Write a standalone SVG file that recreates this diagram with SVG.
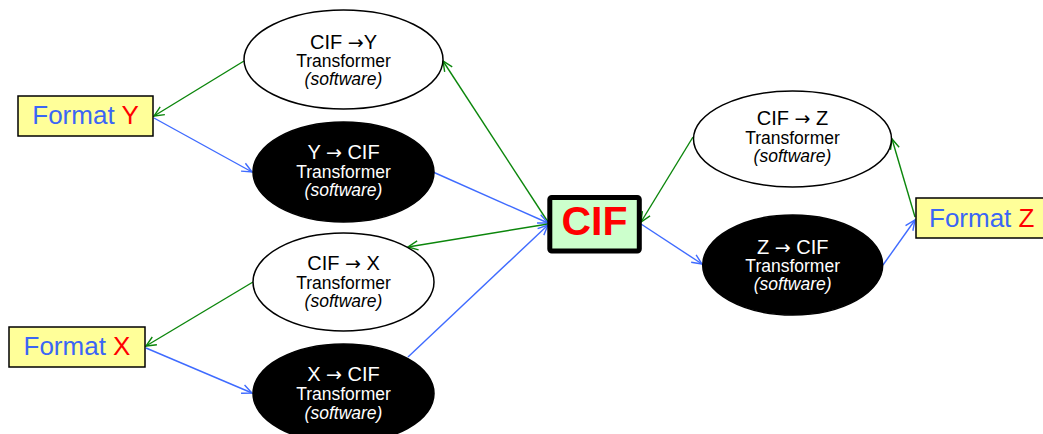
<svg xmlns="http://www.w3.org/2000/svg" width="1043" height="434" viewBox="0 0 1043 434">
  <style>
    .fmt { fill: #ffff99; stroke: #000; stroke-width: 1.5; }
    .fmtText { font-family: "Liberation Sans", Arial, sans-serif; font-size: 26px; fill: #3b66f5; }
    .red { fill: #ff0000; }
    .xfOut { fill: #fff; stroke: #000; stroke-width: 1.5; }
    .xfIn { fill: #000; stroke: #000; stroke-width: 1.5; }
    .t1 { font-family: "Liberation Sans", Arial, sans-serif; font-size: 20px; text-anchor: middle; }
    .arr { font-family: "DejaVu Sans", sans-serif; font-size: 19px; }
    .t2 { font-family: "Liberation Sans", Arial, sans-serif; font-size: 17.5px; text-anchor: middle; }
    .t3 { font-family: "Liberation Sans", Arial, sans-serif; font-size: 17.5px; font-style: italic; text-anchor: middle; }
    .dark { fill: #000; }
    .light { fill: #fff; }
    .g { stroke: #0b860b; stroke-width: 1.4; fill: none; marker-end: url(#ag); }
    .b { stroke: #3f6bff; stroke-width: 1.4; fill: none; marker-end: url(#ab); }
  </style>
  <defs>
    <marker id="ag" viewBox="-11 -6 13 12" markerWidth="13" markerHeight="12" refX="0" refY="0" orient="auto" markerUnits="userSpaceOnUse">
      <path d="M-10,-4.5 L0,0 L-10,4.5" fill="none" stroke="#0b860b" stroke-width="1.4"/>
    </marker>
    <marker id="ab" viewBox="-11 -6 13 12" markerWidth="13" markerHeight="12" refX="0" refY="0" orient="auto" markerUnits="userSpaceOnUse">
      <path d="M-10,-4.5 L0,0 L-10,4.5" fill="none" stroke="#3f6bff" stroke-width="1.4"/>
    </marker>
  </defs>

  <!-- connectors -->
  <g id="connectors">
    <line class="g" x1="244" y1="61" x2="154" y2="116"/>
    <line class="b" x1="154" y1="118" x2="252" y2="172"/>
    <line class="g" x1="548" y1="222" x2="443" y2="61"/>
    <line class="b" x1="433" y1="172" x2="548" y2="223"/>
    <line class="g" x1="548" y1="224" x2="408" y2="247"/>
    <line class="b" x1="408" y1="357" x2="548" y2="225"/>
    <line class="g" x1="253" y1="282" x2="146" y2="346"/>
    <line class="b" x1="146" y1="348" x2="252" y2="393"/>
    <line class="g" x1="693" y1="137" x2="641" y2="222"/>
    <line class="b" x1="641" y1="224" x2="702" y2="264"/>
    <line class="g" x1="915" y1="217" x2="892" y2="139"/>
    <line class="b" x1="883" y1="265" x2="915" y2="220"/>
  </g>

  <!-- format Y -->
  <g id="formatY">
    <rect class="fmt" x="18" y="96" width="135" height="40"/>
    <text class="fmtText" x="85.5" y="124" text-anchor="middle">Format <tspan class="red">Y</tspan></text>
  </g>

  <!-- format X -->
  <g id="formatX">
    <rect class="fmt" x="9" y="327" width="136" height="40"/>
    <text class="fmtText" x="77" y="355" text-anchor="middle">Format <tspan class="red">X</tspan></text>
  </g>

  <!-- format Z -->
  <g id="formatZ">
    <rect class="fmt" x="916" y="198" width="140" height="40"/>
    <text class="fmtText" x="929" y="227">Format <tspan class="red">Z</tspan></text>
  </g>

  <!-- central CIF -->
  <g id="cif">
    <rect x="549.8" y="197.5" width="89.5" height="53.5" rx="2" fill="#ccffcc" stroke="#000" stroke-width="5"/>
    <text x="594.5" y="235" text-anchor="middle" font-family="'Liberation Sans', Arial, sans-serif" font-size="41" font-weight="bold" fill="#ff0000">CIF</text>
  </g>

  <!-- CIF to Y -->
  <g id="cifToY">
    <ellipse class="xfOut" cx="343.5" cy="59.5" rx="99.5" ry="49.5"/>
    <text class="t1 dark" x="343.5" y="48.5">CIF <tspan class="arr">→</tspan>Y</text>
    <text class="t2 dark" x="343.5" y="67">Transformer</text>
    <text class="t3 dark" x="343.5" y="85">(software)</text>
  </g>

  <!-- Y to CIF -->
  <g id="yToCif">
    <ellipse class="xfIn" cx="343.5" cy="172" rx="90.5" ry="50"/>
    <text class="t1 light" x="343.5" y="158.5">Y <tspan class="arr">→</tspan> CIF</text>
    <text class="t2 light" x="343.5" y="177.5">Transformer</text>
    <text class="t3 light" x="343.5" y="196">(software)</text>
  </g>

  <!-- CIF to X -->
  <g id="cifToX">
    <ellipse class="xfOut" cx="343.5" cy="282" rx="90.5" ry="49"/>
    <text class="t1 dark" x="343.5" y="270">CIF <tspan class="arr">→</tspan> X</text>
    <text class="t2 dark" x="343.5" y="288.5">Transformer</text>
    <text class="t3 dark" x="343.5" y="307">(software)</text>
  </g>

  <!-- X to CIF -->
  <g id="xToCif">
    <ellipse class="xfIn" cx="343.5" cy="393.5" rx="90.5" ry="49.5"/>
    <text class="t1 light" x="343.5" y="381">X <tspan class="arr">→</tspan> CIF</text>
    <text class="t2 light" x="343.5" y="400">Transformer</text>
    <text class="t3 light" x="343.5" y="418.5">(software)</text>
  </g>

  <!-- CIF to Z -->
  <g id="cifToZ">
    <ellipse class="xfOut" cx="792.5" cy="139" rx="99" ry="48"/>
    <text class="t1 dark" x="792.5" y="125">CIF <tspan class="arr">→</tspan> Z</text>
    <text class="t2 dark" x="792.5" y="144">Transformer</text>
    <text class="t3 dark" x="792.5" y="162">(software)</text>
  </g>

  <!-- Z to CIF -->
  <g id="zToCif">
    <ellipse class="xfIn" cx="792.7" cy="265" rx="90" ry="50"/>
    <text class="t1 light" x="792.7" y="253.5">Z <tspan class="arr">→</tspan> CIF</text>
    <text class="t2 light" x="792.7" y="272">Transformer</text>
    <text class="t3 light" x="792.7" y="290">(software)</text>
  </g>
</svg>
